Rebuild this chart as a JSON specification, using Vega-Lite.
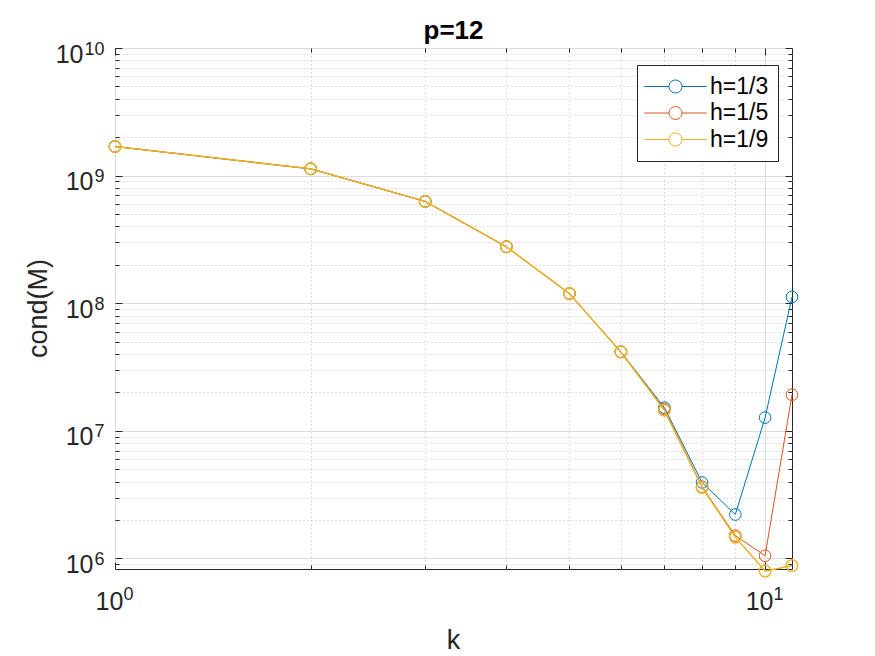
{
  "$schema": "https://vega.github.io/schema/vega-lite/v6.json",
  "width": 677,
  "height": 521,
  "autosize": "none",
  "padding": {"left": 115, "top": 48, "right": 83, "bottom": 87},
  "background": "white",
  "title": {"text": "p=12", "font": "Liberation Sans", "fontSize": 26, "fontWeight": "bold", "color": "#000000", "anchor": "middle", "frame": "group", "baseline": "alphabetic", "offset": 8, "dy": 33},
  "config": {"view": {"stroke": "#262626", "strokeWidth": 1}, "font": "Liberation Sans"},
  "data": {"values": [
    {"s": "h=1/3", "k": 1, "v": 1.69e9},
    {"s": "h=1/3", "k": 2, "v": 1.13e9},
    {"s": "h=1/3", "k": 3, "v": 6.28e8},
    {"s": "h=1/3", "k": 4, "v": 2.77e8},
    {"s": "h=1/3", "k": 5, "v": 1.19e8},
    {"s": "h=1/3", "k": 6, "v": 4.17e7},
    {"s": "h=1/3", "k": 7, "v": 1.52e7},
    {"s": "h=1/3", "k": 8, "v": 3.94e6},
    {"s": "h=1/3", "k": 9, "v": 2.21e6},
    {"s": "h=1/3", "k": 10, "v": 1.27e7},
    {"s": "h=1/3", "k": 11, "v": 1.12e8},
    {"s": "h=1/5", "k": 1, "v": 1.69e9},
    {"s": "h=1/5", "k": 2, "v": 1.13e9},
    {"s": "h=1/5", "k": 3, "v": 6.28e8},
    {"s": "h=1/5", "k": 4, "v": 2.77e8},
    {"s": "h=1/5", "k": 5, "v": 1.19e8},
    {"s": "h=1/5", "k": 6, "v": 4.15e7},
    {"s": "h=1/5", "k": 7, "v": 1.48e7},
    {"s": "h=1/5", "k": 8, "v": 3.65e6},
    {"s": "h=1/5", "k": 9, "v": 1.51e6},
    {"s": "h=1/5", "k": 10, "v": 1.05e6},
    {"s": "h=1/5", "k": 11, "v": 1.92e7},
    {"s": "h=1/9", "k": 1, "v": 1.69e9},
    {"s": "h=1/9", "k": 2, "v": 1.13e9},
    {"s": "h=1/9", "k": 3, "v": 6.28e8},
    {"s": "h=1/9", "k": 4, "v": 2.77e8},
    {"s": "h=1/9", "k": 5, "v": 1.19e8},
    {"s": "h=1/9", "k": 6, "v": 4.14e7},
    {"s": "h=1/9", "k": 7, "v": 1.45e7},
    {"s": "h=1/9", "k": 8, "v": 3.6e6},
    {"s": "h=1/9", "k": 9, "v": 1.47e6},
    {"s": "h=1/9", "k": 10, "v": 7.96e5},
    {"s": "h=1/9", "k": 11, "v": 8.8e5}
  ]},
  "resolve": {"axis": {"x": "independent", "y": "independent"}},
  "layer": [
    {
      "transform": [{"filter": "datum.s === 'h=1/3'"}],
      "mark": {"type": "line", "strokeWidth": 1, "point": {"filled": false, "size": 135, "strokeWidth": 1}},
      "encoding": {
        "x": {"field": "k", "type": "quantitative", "scale": {"type": "log", "domain": [1, 11], "nice": false},
          "axis": {"orient": "bottom", "values": [1, 10], "grid": true, "gridColor": "#dcdcdc", "gridWidth": 1, "ticks": false, "tickSize": 0, "domain": false,
            "labelExpr": "'10'", "labelFont": "Liberation Sans", "labelFontSize": 25, "labelColor": "#262626", "labelAlign": "center", "labelBaseline": "alphabetic", "labelPadding": 40, "labelOffset": -6, "labelFlush": false, "labelOverlap": false, "labelBound": false,
            "title": "k", "titleFont": "Liberation Sans", "titleFontSize": 27, "titleFontWeight": "normal", "titleColor": "#262626", "titleX": 338, "titleY": 79, "titleBaseline": "alphabetic", "titleAlign": "center"}},
        "y": {"field": "v", "type": "quantitative", "scale": {"type": "log", "domain": [827000, 10000000000], "nice": false},
          "axis": {"orient": "left", "values": [1000000, 10000000, 100000000, 1000000000, 10000000000], "grid": true, "gridColor": "#dcdcdc", "gridWidth": 1, "ticks": false, "tickSize": 0, "domain": false,
            "labelExpr": "'10'", "labelFont": "Liberation Sans", "labelFontSize": 25, "labelColor": "#262626", "labelAlign": "right", "labelBaseline": "alphabetic", "labelOffset": 14,
            "labelPadding": {"condition": {"test": "datum.value >= 5000000000", "value": 32}, "value": 22}, "labelFlush": false, "labelOverlap": false, "labelBound": false,
            "title": "cond(M)", "titleFont": "Liberation Sans", "titleFontSize": 27, "titleFontWeight": "normal", "titleColor": "#262626", "titleX": -69, "titleY": 260, "titleAngle": 270, "titleBaseline": "alphabetic", "titleAlign": "center"}},
        "color": {"field": "s", "type": "nominal", "scale": {"domain": ["h=1/3", "h=1/5", "h=1/9"], "range": ["#0072BD", "#D95319", "#EDB120"]},
          "legend": {"orient": "none", "legendX": 522, "legendY": 17, "title": null, "direction": "vertical",
            "symbolType": "M-2.6,0L-0.54,0M0.54,0L2.6,0M0.54,0A0.54,0.54,0,1,1,-0.54,0A0.54,0.54,0,1,1,0.54,0",
            "symbolSize": 576, "symbolStrokeWidth": 1, "symbolFillColor": "transparent", "symbolOffset": 17,
            "labelOffset": 22, "labelFont": "Liberation Sans", "labelFontSize": 23, "labelColor": "#000000", "labelLimit": 0,
            "padding": 9, "rowPadding": 1.5, "strokeColor": "#262626", "fillColor": "#ffffff", "cornerRadius": 0}}
      }
    },
    {
      "transform": [{"filter": "datum.s === 'h=1/5'"}],
      "mark": {"type": "line", "strokeWidth": 1, "point": {"filled": false, "size": 135, "strokeWidth": 1}},
      "encoding": {
        "x": {"field": "k", "type": "quantitative", "scale": {"type": "log", "domain": [1, 11], "nice": false}, "axis": null},
        "y": {"field": "v", "type": "quantitative", "scale": {"type": "log", "domain": [827000, 10000000000], "nice": false}, "axis": null},
        "color": {"field": "s", "type": "nominal", "scale": {"domain": ["h=1/3", "h=1/5", "h=1/9"], "range": ["#0072BD", "#D95319", "#EDB120"]}, "legend": null}
      }
    },
    {
      "transform": [{"filter": "datum.s === 'h=1/9'"}],
      "mark": {"type": "line", "strokeWidth": 1.5, "point": {"filled": false, "size": 135, "strokeWidth": 1.4}},
      "encoding": {
        "x": {"field": "k", "type": "quantitative", "scale": {"type": "log", "domain": [1, 11], "nice": false}, "axis": null},
        "y": {"field": "v", "type": "quantitative", "scale": {"type": "log", "domain": [827000, 10000000000], "nice": false}, "axis": null},
        "color": {"field": "s", "type": "nominal", "scale": {"domain": ["h=1/3", "h=1/5", "h=1/9"], "range": ["#0072BD", "#D95319", "#EDB120"]}, "legend": null}
      }
    },
    {
      "mark": {"type": "point", "opacity": 0},
      "encoding": {
        "x": {"field": "k", "type": "quantitative", "scale": {"type": "log", "domain": [1, 11], "nice": false},
          "axis": {"orient": "bottom", "values": [1, 10], "grid": false, "ticks": false, "tickSize": 0, "domain": false,
            "labelExpr": "'' + round(log(datum.value) / LN10)", "labelFont": "Liberation Sans", "labelFontSize": 18, "labelColor": "#262626", "labelAlign": "center", "labelBaseline": "alphabetic", "labelPadding": 30, "labelOffset": 13, "labelFlush": false, "labelOverlap": false, "labelBound": false, "title": null}},
        "y": {"field": "v", "type": "quantitative", "scale": {"type": "log", "domain": [827000, 10000000000], "nice": false},
          "axis": {"orient": "left", "values": [1000000, 10000000, 100000000, 1000000000, 10000000000], "grid": false, "ticks": false, "tickSize": 0, "domain": false,
            "labelExpr": "'' + round(log(datum.value) / LN10)", "labelFont": "Liberation Sans", "labelFontSize": 18, "labelColor": "#262626", "labelAlign": "right", "labelBaseline": "alphabetic", "labelPadding": 11, "labelOffset": 6, "labelFlush": false, "labelOverlap": false, "labelBound": false, "title": null}}
      }
    },
    {
      "mark": {"type": "point", "opacity": 0},
      "encoding": {
        "x": {"field": "k", "type": "quantitative", "scale": {"type": "log", "domain": [1, 11], "nice": false},
          "axis": {"orient": "bottom", "values": [2, 3, 4, 5, 6, 7, 8, 9], "grid": true, "gridColor": "#bdbdbd", "gridDash": [1, 3], "gridWidth": 1, "ticks": true, "tickSize": -4, "tickColor": "#262626", "tickWidth": 1, "labels": false, "domain": false, "title": null}},
        "y": {"field": "v", "type": "quantitative", "scale": {"type": "log", "domain": [827000, 10000000000], "nice": false},
          "axis": {"orient": "left", "values": [900000, 2000000, 3000000, 4000000, 5000000, 6000000, 7000000, 8000000, 9000000, 20000000, 30000000, 40000000, 50000000, 60000000, 70000000, 80000000, 90000000, 200000000, 300000000, 400000000, 500000000, 600000000, 700000000, 800000000, 900000000, 2000000000, 3000000000, 4000000000, 5000000000, 6000000000, 7000000000, 8000000000, 9000000000], "grid": true, "gridColor": "#bdbdbd", "gridDash": [1, 3], "gridWidth": 1, "ticks": true, "tickSize": -4, "tickColor": "#262626", "tickWidth": 1, "labels": false, "domain": false, "title": null}}
      }
    },
    {
      "mark": {"type": "point", "opacity": 0},
      "encoding": {
        "x": {"field": "k", "type": "quantitative", "scale": {"type": "log", "domain": [1, 11], "nice": false},
          "axis": {"orient": "bottom", "values": [1, 10], "grid": false, "ticks": true, "tickSize": -7, "tickColor": "#262626", "tickWidth": 1, "labels": false, "domain": false, "title": null}},
        "y": {"field": "v", "type": "quantitative", "scale": {"type": "log", "domain": [827000, 10000000000], "nice": false},
          "axis": {"orient": "left", "values": [1000000, 10000000, 100000000, 1000000000, 10000000000], "grid": false, "ticks": true, "tickSize": -7, "tickColor": "#262626", "tickWidth": 1, "labels": false, "domain": false, "title": null}}
      }
    },
    {
      "mark": {"type": "point", "opacity": 0},
      "encoding": {
        "x": {"field": "k", "type": "quantitative", "scale": {"type": "log", "domain": [1, 11], "nice": false},
          "axis": {"orient": "top", "values": [2, 3, 4, 5, 6, 7, 8, 9], "grid": false, "ticks": true, "tickSize": -4, "tickColor": "#262626", "tickWidth": 1, "labels": false, "domain": false, "title": null}},
        "y": {"field": "v", "type": "quantitative", "scale": {"type": "log", "domain": [827000, 10000000000], "nice": false},
          "axis": {"orient": "right", "values": [900000, 2000000, 3000000, 4000000, 5000000, 6000000, 7000000, 8000000, 9000000, 20000000, 30000000, 40000000, 50000000, 60000000, 70000000, 80000000, 90000000, 200000000, 300000000, 400000000, 500000000, 600000000, 700000000, 800000000, 900000000, 2000000000, 3000000000, 4000000000, 5000000000, 6000000000, 7000000000, 8000000000, 9000000000], "grid": false, "ticks": true, "tickSize": -4, "tickColor": "#262626", "tickWidth": 1, "labels": false, "domain": false, "title": null}}
      }
    },
    {
      "mark": {"type": "point", "opacity": 0},
      "encoding": {
        "x": {"field": "k", "type": "quantitative", "scale": {"type": "log", "domain": [1, 11], "nice": false},
          "axis": {"orient": "top", "values": [1, 10], "grid": false, "ticks": true, "tickSize": -7, "tickColor": "#262626", "tickWidth": 1, "labels": false, "domain": false, "title": null}},
        "y": {"field": "v", "type": "quantitative", "scale": {"type": "log", "domain": [827000, 10000000000], "nice": false},
          "axis": {"orient": "right", "values": [1000000, 10000000, 100000000, 1000000000, 10000000000], "grid": false, "ticks": true, "tickSize": -7, "tickColor": "#262626", "tickWidth": 1, "labels": false, "domain": false, "title": null}}
      }
    }
  ]
}
